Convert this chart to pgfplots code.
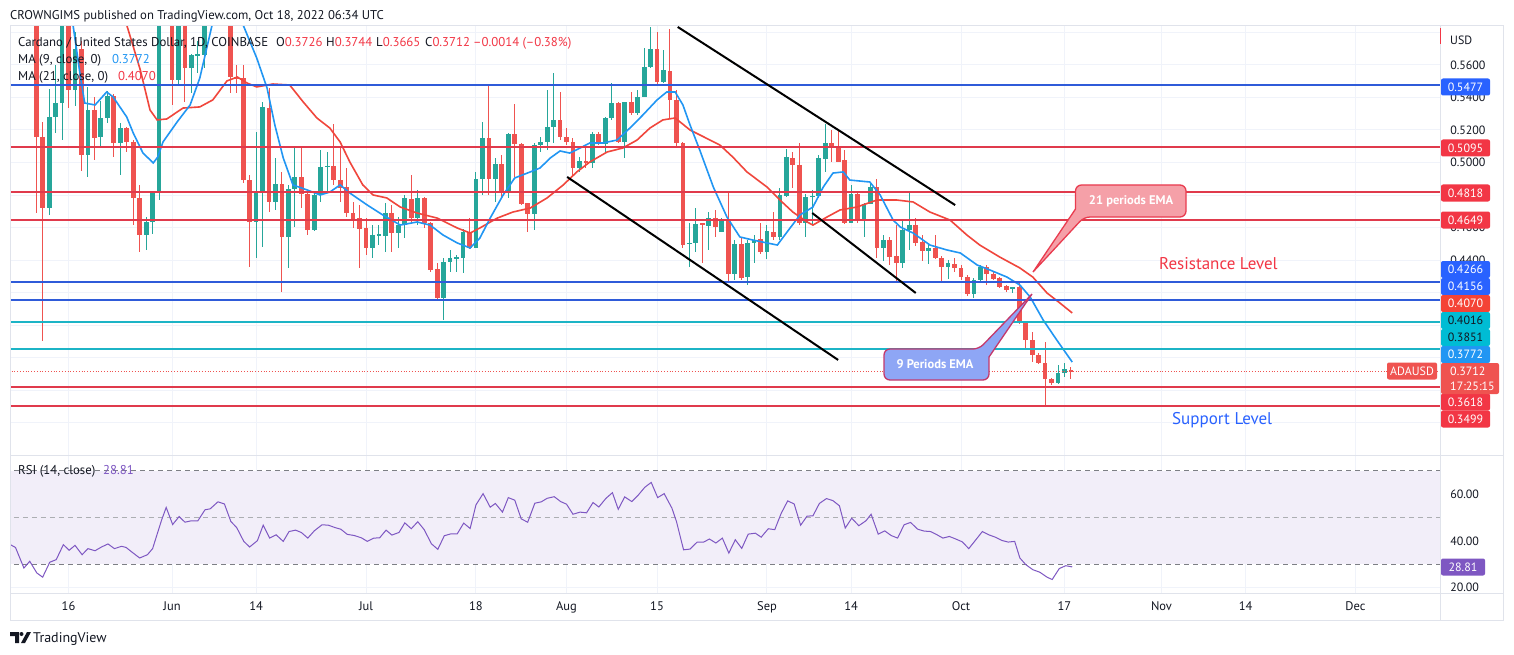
\documentclass[border=0pt]{standalone}
\usepackage{pgfplots}
\pgfplotsset{compat=1.18}
\usepackage{pgfplotstable}
\usepackage{fontspec}
\setmainfont{PT Sans}
\definecolor{cgreen}{HTML}{26A69A}
\definecolor{cred}{HTML}{EF5350}
\definecolor{lblue}{HTML}{2F5BD9}
\definecolor{lred}{HTML}{E03A4C}
\definecolor{lcyan}{HTML}{1CB4C6}
\definecolor{maa}{HTML}{2196F3}
\definecolor{mab}{HTML}{F0463C}
\definecolor{rsiv}{HTML}{7E57C2}
\definecolor{gridc}{HTML}{F0F3FA}
\definecolor{framec}{HTML}{E0E3EB}
\definecolor{txt}{HTML}{131722}
\definecolor{boxblue}{HTML}{2962FF}
\definecolor{boxred}{HTML}{F23645}
\definecolor{boxcyan}{HTML}{00BCD4}
\definecolor{boxma}{HTML}{F44336}
\definecolor{cfillA}{HTML}{F5A0A8}
\definecolor{clineA}{HTML}{E93C4F}
\definecolor{cfillB}{HTML}{8EA6F5}
\definecolor{clineB}{HTML}{C4386B}
\newcommand{\fs}[1]{\fontsize{#1}{#1}\selectfont}

\pgfplotstableread{
d o h l c
-21 0.630 0.640 0.469 0.5157
-20 0.5157 0.525 0.390 0.4718
-19 0.4718 0.545 0.4677 0.5278
-18 0.5278 0.560 0.518 0.5364
-17 0.5364 0.600 0.514 0.595
-16 0.595 0.600 0.5334 0.5446
-15 0.5446 0.580 0.535 0.570
-14 0.570 0.575 0.4945 0.5046
-13 0.5046 0.5467 0.4913 0.5323
-12 0.5323 0.5405 0.5016 0.5149
-11 0.5155 0.538 0.510 0.5276
-10 0.5276 0.544 0.524 0.5409
-9 0.5409 0.542 0.5036 0.5122
-8 0.5122 0.5245 0.4923 0.5214
-7 0.5214 0.522 0.5067 0.5128
-6 0.5128 0.514 0.4615 0.478
-5 0.478 0.486 0.4451 0.4554
-4 0.4554 0.4666 0.4461 0.4636
-3 0.4636 0.4821 0.456 0.4821
-2 0.4821 0.610 0.477 0.600
-1 0.600 0.625 0.588 0.610
0 0.605 0.610 0.5354 0.5508
1 0.5508 0.610 0.5477 0.600
2 0.600 0.610 0.5374 0.5583
3 0.5583 0.567 0.5426 0.5661
4 0.5655 0.575 0.555 0.5665
5 0.5661 0.625 0.558 0.610
6 0.610 0.640 0.600 0.630
7 0.630 0.650 0.610 0.625
8 0.625 0.630 0.590 0.600
9 0.600 0.605 0.5426 0.5528
10 0.5528 0.560 0.5426 0.5518
11 0.5518 0.560 0.4872 0.4892
12 0.4892 0.4923 0.4359 0.4632
13 0.4632 0.519 0.4410 0.482
14 0.482 0.5374 0.4482 0.5343
15 0.5337 0.5456 0.4697 0.4755
16 0.4755 0.5026 0.4708 0.4866
17 0.4866 0.4944 0.4205 0.454
18 0.454 0.4862 0.4353 0.4837
19 0.4837 0.5087 0.4605 0.4909
20 0.4909 0.5097 0.4718 0.4806
21 0.4806 0.4820 0.4554 0.4585
22 0.4585 0.4810 0.4580 0.480
23 0.480 0.5077 0.4759 0.4974
24 0.4974 0.5067 0.4820 0.4980
25 0.4980 0.524 0.4861 0.4892
26 0.4892 0.5087 0.4759 0.484
27 0.4847 0.4964 0.4666 0.4687
28 0.4687 0.4759 0.4595 0.465
29 0.4657 0.4738 0.4349 0.4591
30 0.4595 0.4656 0.4431 0.4476
31 0.4476 0.4615 0.4410 0.4554
32 0.4554 0.4615 0.4492 0.4558
33 0.4550 0.4749 0.4451 0.4687
34 0.4687 0.4738 0.4451 0.4564
35 0.4564 0.4667 0.4472 0.4615
36 0.4615 0.4800 0.4533 0.4780
37 0.4775 0.4923 0.4636 0.4657
38 0.4657 0.4831 0.4615 0.478
39 0.478 0.4790 0.4600 0.4626
40 0.4626 0.4636 0.4328 0.4339
41 0.4345 0.4380 0.4160 0.4164
42 0.4164 0.4410 0.4030 0.4386
43 0.4386 0.4462 0.4328 0.441
44 0.441 0.4431 0.4328 0.4420
45 0.441 0.4591 0.4318 0.4574
46 0.4574 0.4656 0.4465 0.4472
47 0.4476 0.4944 0.4472 0.4896
48 0.4896 0.5251 0.4800 0.5149
49 0.5149 0.5477 0.4800 0.4896
50 0.4896 0.5026 0.4759 0.4989
51 0.4989 0.5046 0.4790 0.482
52 0.482 0.5179 0.4779 0.5173
53 0.5173 0.5358 0.4913 0.5114
54 0.5114 0.5118 0.4738 0.4745
55 0.4749 0.4749 0.4574 0.4681
56 0.4681 0.5118 0.4585 0.5108
57 0.5108 0.5159 0.5067 0.5124
58 0.5124 0.5446 0.5077 0.5221
59 0.5221 0.5549 0.5118 0.5262
60 0.5262 0.5436 0.5138 0.5159
61 0.5159 0.5210 0.5108 0.5124
62 0.5124 0.5149 0.4913 0.4968
63 0.4968 0.5036 0.4943 0.5009
64 0.5009 0.5097 0.4964 0.4995
65 0.4995 0.5190 0.4964 0.5173
66 0.5173 0.5190 0.5108 0.5112
67 0.5112 0.5282 0.5067 0.5272
68 0.5272 0.5487 0.5261 0.5364
69 0.5364 0.5374 0.5118 0.5128
70 0.5128 0.5374 0.5026 0.5370
71 0.537 0.5436 0.5292 0.5302
72 0.5302 0.5446 0.5292 0.5405
73 0.5405 0.5702 0.5405 0.559
74 0.559 0.5836 0.5579 0.5698
75 0.5698 0.5805 0.5481 0.5493
76 0.5493 0.5692 0.5487 0.5569
77 0.5563 0.582 0.5272 0.5385
78 0.5385 0.5446 0.5087 0.5118
79 0.5118 0.5128 0.4472 0.4492
80 0.4498 0.4626 0.4359 0.4507
81 0.4507 0.4718 0.4451 0.4622
82 0.4626 0.4626 0.4380 0.4615
83 0.4609 0.4697 0.4462 0.4657
84 0.4657 0.4708 0.4544 0.4601
85 0.4574 0.4656 0.4574 0.4646
86 0.4646 0.4810 0.4267 0.4314
87 0.4314 0.4523 0.4277 0.4498
88 0.4498 0.4544 0.4277 0.4287
89 0.4297 0.4523 0.4246 0.4503
90 0.4503 0.4554 0.4380 0.4523
91 0.4527 0.4626 0.4436 0.4451
92 0.4451 0.4615 0.4405 0.4579
93 0.4574 0.4697 0.4523 0.454
94 0.454 0.4841 0.4523 0.48
95 0.4794 0.5081 0.4790 0.5032
96 0.5026 0.5067 0.4841 0.4985
97 0.4985 0.5122 0.4615 0.4626
98 0.4626 0.4806 0.4544 0.479
99 0.479 0.4831 0.4615 0.4794
100 0.4794 0.5046 0.4780 0.5026
101 0.502 0.5237 0.4943 0.5122
102 0.5122 0.5200 0.5000 0.5093
103 0.5093 0.5204 0.5000 0.5005
104 0.5015 0.5077 0.4622 0.463
105 0.463 0.4861 0.4626 0.4804
106 0.4804 0.4810 0.4630 0.4646
107 0.465 0.4749 0.4544 0.4745
108 0.4745 0.4872 0.4745 0.4851
109 0.4851 0.4897 0.4410 0.4476
110 0.4476 0.4554 0.4395 0.4523
111 0.4523 0.4544 0.4370 0.442
112 0.4425 0.4615 0.4257 0.4379
113 0.4379 0.4646 0.4349 0.4585
114 0.4585 0.481 0.4462 0.4615
115 0.4615 0.4656 0.4486 0.4507
116 0.4513 0.4554 0.4396 0.4458
117 0.4458 0.4492 0.4375 0.4472
118 0.4472 0.4554 0.4404 0.441
119 0.441 0.4425 0.4256 0.4359
120 0.4359 0.4400 0.4281 0.4379
121 0.4375 0.4410 0.4328 0.4349
122 0.4349 0.4369 0.4277 0.4297
123 0.4297 0.4308 0.4178 0.419
124 0.419 0.4287 0.4164 0.4277
125 0.4277 0.4369 0.4267 0.4355
126 0.4355 0.4369 0.4246 0.4314
127 0.4314 0.4328 0.4277 0.4281
128 0.4287 0.4297 0.4226 0.4236
129 0.424 0.4246 0.4205 0.4216
130 0.422 0.4236 0.4195 0.4232
131 0.4236 0.4267 0.4006 0.4015
132 0.4015 0.4021 0.3846 0.3908
133 0.3908 0.3959 0.3775 0.3816
134 0.3816 0.3826 0.3762 0.3768
135 0.3768 0.3898 0.3498 0.3666
136 0.3666 0.3672 0.3631 0.3641
137 0.3641 0.3754 0.3638 0.3707
138 0.3707 0.3764 0.3682 0.3727
139 0.3726 0.3744 0.3665 0.3712
}\candles

\pgfplotsset{
  tvgrid/.style={
    scale only axis, width=1429pt,
    xmin=-24.896, xmax=196.072,
    axis line style={draw=none}, major tick length=0pt,
    xtick={-16,0,13,30,47,61,75,92,105,122,138,153,166,183},
    xmajorgrids, ymajorgrids,
    grid style={gridc, line width=1pt},
    clip=true,
  },
  wick/.style={draw=none, mark=none, forget plot,
    error bars/y dir=both, error bars/y explicit, error bars/error mark=none,
    error bars/error bar style={line width=1pt, draw=#1}},
  body/.style={draw=none, mark=none, forget plot,
    error bars/y dir=both, error bars/y explicit, error bars/error mark=none,
    error bars/error bar style={line width=4.8pt, draw=#1}},
}

\begin{document}
\begin{tikzpicture}
\useasboundingbox (0pt,0pt) rectangle (1514pt,-655pt);
\fill[white] (0pt,0pt) rectangle (1514pt,-655pt);

% ---------------- price pane ----------------
\begin{axis}[tvgrid,
  at={(11pt,-455pt)}, anchor=south west, height=429pt,
  ymin=0.32, ymax=0.584,
  xticklabels={},
  ytick={0.34,0.36,0.38,0.40,0.42,0.44,0.46,0.48,0.50,0.52,0.54,0.56,0.58},
  yticklabels={,,,,,0.4400,0.4600,,0.5000,0.5200,0.5400,0.5600,},
  yticklabel pos=right,
  yticklabel style={anchor=west, inner sep=0pt, xshift=10pt, font=\fs{12}, text=txt},
]
% wicks
\addplot[restrict expr to domain={\thisrow{c}-\thisrow{o}}{0:1}, wick=cgreen]
  table[x=d, y expr={(\thisrow{h}+\thisrow{l})/2}, y error expr={(\thisrow{h}-\thisrow{l})/2}] {\candles};
\addplot[restrict expr to domain={\thisrow{c}-\thisrow{o}}{-1:-0.00001}, wick=cred]
  table[x=d, y expr={(\thisrow{h}+\thisrow{l})/2}, y error expr={(\thisrow{h}-\thisrow{l})/2}] {\candles};
% bodies
\addplot[restrict expr to domain={\thisrow{c}-\thisrow{o}}{0:1}, body=cgreen]
  table[x=d, y expr={(\thisrow{o}+\thisrow{c})/2}, y error expr={max(abs(\thisrow{c}-\thisrow{o})/2,0.0003)}] {\candles};
\addplot[restrict expr to domain={\thisrow{c}-\thisrow{o}}{-1:-0.00001}, body=cred]
  table[x=d, y expr={(\thisrow{o}+\thisrow{c})/2}, y error expr={max(abs(\thisrow{c}-\thisrow{o})/2,0.0003)}] {\candles};

% MA 21
\addplot[mab, line width=1.6pt, mark=none] coordinates {
(-7.5,0.595) (-7.0,0.5846) (-4.9,0.5569) (-3.4,0.5323) (-2.3,0.5262) (-0.8,0.5268) (1.7,0.5335) (4.3,0.5342) (6.3,0.5385) (8.5,0.5502) (10.1,0.5526) (11.6,0.5489) (13.1,0.5465) (15.6,0.5483) (18.2,0.5477) (20.3,0.5372) (22.4,0.5274) (24.4,0.5212) (26.0,0.5126) (27.5,0.5003) (29.5,0.4862) (31.1,0.48) (33.2,0.4782) (35.3,0.4726) (37.9,0.4689) (41.0,0.4658) (44.1,0.4597) (46.1,0.4566) (47.6,0.4597) (50.3,0.4658) (52.7,0.4695) (55.4,0.472) (58.0,0.4782) (60.5,0.4862) (62.6,0.4942) (64.6,0.5003) (67.3,0.5065) (69.7,0.5089) (71.9,0.5138) (73.9,0.5212) (75.9,0.5262) (77.8,0.5274) (80.1,0.52) (84.7,0.5108) (86.7,0.5034) (88.9,0.4942) (92.0,0.4849) (94.0,0.4769) (96.0,0.4695) (98.2,0.4634) (99.1,0.4615) (101.3,0.4665) (103.3,0.4708) (105.9,0.4726) (109.0,0.4769) (112.1,0.4769) (114.6,0.4757) (117.2,0.4695) (120.3,0.4646) (122.9,0.4554) (124.9,0.4492) (128.0,0.4418) (131.1,0.4351) (133.1,0.4295) (135.3,0.4197) (137.3,0.4135) (139.2,0.4074)
};
% MA 9
\addplot[maa, line width=1.6pt, mark=none] coordinates {
(-15.5,0.59) (-14.2,0.5538) (-13.5,0.5366) (-11.9,0.5354) (-10.1,0.5434) (-9.1,0.5403) (-7.0,0.528) (-6.0,0.5182) (-4.5,0.5059) (-2.9,0.4997) (-2.2,0.5034) (-1.4,0.5126) (0.8,0.525) (2.8,0.5354) (4.3,0.552) (6.2,0.5846) (6.6,0.594) (8.5,0.61) (10.5,0.594) (11.0,0.5846) (13.1,0.5643) (14.7,0.5458) (15.9,0.5231) (17.2,0.5028) (18.7,0.4862) (20.9,0.4831) (22.9,0.48) (24.4,0.4818) (26.0,0.4862) (27.5,0.4812) (30.2,0.4738) (32.6,0.4677) (35.3,0.4615) (37.9,0.4634) (39.9,0.4615) (41.9,0.4554) (44.1,0.4505) (46.1,0.4474) (47.6,0.4535) (49.2,0.4658) (51.2,0.48) (53.0,0.4905) (55.4,0.4942) (56.9,0.4966) (58.5,0.5028) (60.0,0.5071) (61.5,0.5058) (63.1,0.5089) (64.6,0.512) (66.6,0.512) (68.8,0.5138) (70.8,0.5212) (72.8,0.5292) (75.0,0.5385) (76.5,0.5434) (77.8,0.5434) (79.0,0.5354) (80.1,0.5231) (81.6,0.5077) (83.7,0.4849) (85.8,0.4665) (87.8,0.4542) (89.8,0.4523) (92.0,0.4505) (93.6,0.4492) (95.1,0.4572) (97.1,0.4677) (99.1,0.4726) (100.7,0.4849) (102.2,0.4935) (103.8,0.4942) (104.8,0.4892) (107.9,0.488) (109.5,0.48) (111.5,0.4646) (112.6,0.4603) (114.6,0.4566) (117.2,0.4492) (119.8,0.4462) (121.9,0.4443) (124.5,0.4369) (126.5,0.4338) (129.1,0.4295) (131.1,0.4246) (132.7,0.4172) (134.7,0.4031) (136.8,0.3908) (139.2,0.3772)
};
% support / resistance lines
\addplot[lblue, line width=2pt] coordinates {(-30,0.5477) (200,0.5477)};
\addplot[lred, line width=2pt] coordinates {(-30,0.5095) (200,0.5095)};
\addplot[lred, line width=2pt] coordinates {(-30,0.4818) (200,0.4818)};
\addplot[lred, line width=2pt] coordinates {(-30,0.4649) (200,0.4649)};
\addplot[lblue, line width=2pt] coordinates {(-30,0.4266) (200,0.4266)};
\addplot[lblue, line width=2pt] coordinates {(-30,0.4156) (200,0.4156)};
\addplot[lcyan, line width=2pt] coordinates {(-30,0.4016) (200,0.4016)};
\addplot[lcyan, line width=2pt] coordinates {(-30,0.3851) (200,0.3851)};
\addplot[lred, line width=2pt] coordinates {(-30,0.3618) (200,0.3618)};
\addplot[lred, line width=2pt] coordinates {(-30,0.3499) (200,0.3499)};
\addplot[cred, line width=0.8pt, dotted] coordinates {(-30,0.3712) (200,0.3712)};
% channel
\addplot[black, line width=2pt] coordinates {(78.2,0.5834) (121.1,0.4738)};
\addplot[black, line width=2pt] coordinates {(61.1,0.4911) (103.0,0.3785)};
\addplot[black, line width=2pt] coordinates {(99.0,0.4689) (115.0,0.4197)};
\end{axis}

% ---------------- RSI pane ----------------
\begin{axis}[tvgrid,
  at={(11pt,-593pt)}, anchor=south west, height=138pt,
  ymin=17.735, ymax=76.709,
  ytick={20,40,60},
  yticklabel pos=right,
  yticklabel style={anchor=west, inner sep=0pt, xshift=10pt, font=\fs{12}, text=txt,
    /pgf/number format/fixed, /pgf/number format/fixed zerofill,
    /pgf/number format/precision=2, /pgf/number format/assume math mode=true},
  xticklabels={16,Jun,14,Jul,18,Aug,15,Sep,14,Oct,17,Nov,14,Dec},
  xticklabel style={anchor=base, inner sep=0pt, yshift=-17pt, font=\fs{12.5}, text=txt},
]
\addplot[draw=none, fill=rsiv!10] coordinates {(-30,30) (200,30) (200,70) (-30,70)} -- cycle;
\addplot[color=txt!55, line width=0.8pt, dash pattern=on 5pt off 4pt] coordinates {(-30,70) (200,70)};
\addplot[color=txt!35, line width=0.8pt, dash pattern=on 5pt off 4pt] coordinates {(-30,50) (200,50)};
\addplot[color=txt!55, line width=0.8pt, dash pattern=on 5pt off 4pt] coordinates {(-30,30) (200,30)};
\addplot[rsiv, line width=1pt, mark=none] coordinates {
(-25.0,38.4) (-24.2,37.2) (-22.9,28.4) (-22.0,31.3) (-20.9,26.3) (-20.0,24.5) (-18.9,30.9) (-17.9,32.0) (-16.8,38.4) (-15.9,36.0) (-15.0,38.1) (-13.9,34.1) (-13.0,36.7) (-11.9,35.8) (-10.9,37.4) (-9.9,38.7) (-8.9,36.7) (-7.8,37.7) (-7.1,37.2) (-6.0,34.8) (-5.0,32.7) (-3.8,34.1) (-3.0,36.7) (-1.6,49.0) (-0.9,54.3) (0.1,47.0) (1.1,50.4) (2.0,48.0) (3.0,48.6) (4.0,48.6) (5.1,53.3) (5.9,53.7) (7.1,56.7) (8.1,55.8) (9.1,48.3) (10.0,45.7) (11.1,39.8) (12.0,37.4) (13.2,40.1) (14.1,46.7) (15.1,41.2) (16.1,42.6) (17.2,39.8) (18.1,44.0) (19.1,44.6) (20.0,43.6) (21.0,41.2) (22.0,44.3) (23.2,46.9) (24.2,46.7) (25.2,45.7) (26.1,45.0) (27.1,42.8) (28.2,42.3) (29.3,41.3) (30.2,39.8) (31.2,41.2) (32.1,41.3) (33.1,44.6) (34.0,42.5) (35.1,43.6) (36.0,47.7) (37.0,45.2) (38.0,48.2) (39.0,44.8) (40.1,38.8) (41.1,36.4) (42.1,42.2) (43.1,43.0) (44.1,43.0) (45.1,47.6) (46.1,45.3) (47.0,55.4) (48.1,60.2) (49.2,54.4) (50.0,56.0) (51.1,52.3) (52.0,58.5) (53.0,57.4) (54.0,49.4) (55.0,48.0) (56.1,56.1) (57.1,56.7) (58.0,58.2) (59.1,58.9) (60.1,56.8) (61.0,55.7) (62.0,51.4) (63.1,52.3) (64.1,52.0) (65.1,56.4) (66.0,54.5) (67.1,58.2) (68.1,60.6) (69.0,53.5) (70.0,58.8) (71.1,56.8) (72.1,59.6) (73.1,62.9) (74.1,65.0) (75.1,58.5) (76.1,60.2) (77.3,54.0) (78.0,48.3) (79.1,36.2) (80.1,36.5) (81.2,39.5) (82.2,39.5) (83.1,40.8) (84.1,39.1) (85.1,41.2) (86.1,34.8) (87.1,40.5) (88.1,36.8) (89.1,42.9) (90.2,43.3) (91.1,41.6) (92.2,45.2) (93.2,44.8) (94.2,51.8) (95.2,57.1) (96.2,55.8) (97.2,46.7) (98.2,50.6) (99.1,50.7) (100.1,56.0) (101.2,58.1) (102.2,57.2) (103.2,55.0) (104.1,45.5) (105.1,49.7) (106.2,46.5) (107.3,48.6) (108.1,51.4) (109.2,42.9) (110.2,44.3) (111.2,42.3) (112.2,41.2) (113.2,46.9) (114.2,47.9) (115.3,45.0) (116.3,44.2) (117.3,44.0) (118.3,42.6) (119.2,41.2) (120.2,41.9) (121.2,40.8) (122.2,39.6) (123.2,36.7) (124.3,40.5) (125.3,44.0) (126.3,42.6) (127.3,41.6) (128.3,40.2) (129.3,39.5) (130.3,39.8) (131.1,32.7) (132.0,29.9) (133.1,27.7) (134.2,26.6) (135.3,24.5) (136.1,23.5) (137.2,28.2) (138.2,29.4) (139.2,28.9)
};
\end{axis}

% ---------------- overlay in pixel coordinates ----------------
\begin{scope}[x=1pt,y=-1pt]
% frame
\draw[framec, line width=1pt] (10,26) rectangle (1503,620);
\draw[framec, line width=1pt] (10,455) -- (1503,455);
\draw[framec, line width=1pt] (10,593) -- (1503,593);
\draw[framec, line width=1pt] (1440,26) -- (1440,620);
\draw[boxred, line width=1pt] (1440,28) -- (1440,44);

% header
\node[anchor=base west, inner sep=0pt, font=\fs{12.7}, text=txt] at (10,20) {CROWNGIMS published on TradingView.com, Oct 18, 2022 06:34 UTC};
% legend
\begin{scope}[every node/.style={anchor=base west, inner sep=0pt, font=\fs{12.8}, text=txt}]
\node at (18,46.5) {Cardano / United States Dollar, 1D, COINBASE};
\node at (276,46.5) {O\textcolor{boxred}{0.3726}};
\node at (326,46.5) {H\textcolor{boxred}{0.3744}};
\node at (376,46.5) {L\textcolor{boxred}{0.3665}};
\node at (425,46.5) {C\textcolor{boxred}{0.3712}};
\node[text=boxred] at (473,46.5) {–0.0014 (–0.38\%)};
\node at (18,63.5) {MA (9, close, 0)};
\node[text=maa] at (112,63.5) {0.3772};
\node at (18,80.5) {MA (21, close, 0)};
\node[text=boxred] at (118,80.5) {0.4070};
\node at (18,474.5) {RSI (14, close)};
\node[text=rsiv] at (103,474.5) {28.81};
\node[font=\fs{12}] at (1450,44.5) {USD};
\end{scope}

% price labels
\begin{scope}[every node/.style={rounded corners=2pt, minimum width=49pt, minimum height=17pt, inner sep=0pt, font=\fs{12}, text=white}]
\node[fill=boxblue] at (1465.5,87) {0.5477};
\node[fill=boxred] at (1465.5,148) {0.5095};
\node[fill=boxred] at (1465.5,193) {0.4818};
\node[fill=boxred] at (1465.5,220) {0.4649};
\node[fill=boxblue] at (1465.5,269.5) {0.4266};
\node[fill=boxblue] at (1465.5,286.5) {0.4156};
\node[fill=boxma] at (1465.5,303.5) {0.4070};
\node[fill=boxcyan, text=txt] at (1465.5,320.5) {0.4016};
\node[fill=boxcyan, text=txt] at (1465.5,337.5) {0.3851};
\node[fill=maa] at (1465.5,354.5) {0.3772};
\node[fill=boxred] at (1465.5,402) {0.3618};
\node[fill=boxred] at (1465.5,419) {0.3499};
\node[fill=rsiv, minimum width=44pt] at (1463,567) {28.81};
\node[fill=cred, minimum width=50pt] at (1412,371) {ADAUSD};
\end{scope}
\fill[cred, rounded corners=2pt] (1441,363) rectangle (1499,394);
\node[anchor=base west, inner sep=0pt, font=\fs{12}, text=white] at (1450,375.5) {0.3712};
\node[anchor=base west, inner sep=0pt, font=\fs{12}, text=white] at (1450,390.5) {17:25:15};

% callouts
\filldraw[fill=cfillA, draw=clineA, line width=1.3pt]
  (1075.5,209) [rounded corners=6pt] -- (1075.5,185) -- (1186,185) -- (1186,217) -- (1084,217) [sharp corners] -- (1033,272) -- cycle;
\node[font=\bfseries\fs{12.5}, text=white, inner sep=0pt] at (1131,201) {21 periods EMA};
\filldraw[fill=cfillB, draw=clineB, line width=1.3pt]
  (989,357) [rounded corners=6pt] -- (989,380) -- (884,380) -- (884,349) -- (979,349) [sharp corners] -- (1032,294) -- cycle;
\node[font=\bfseries\fs{12.5}, text=white, inner sep=0pt] at (935,364) {9 Periods EMA};

\node[anchor=base west, inner sep=0pt, font=\fs{17}, text=boxred] at (1159,269) {Resistance Level};
\node[anchor=base west, inner sep=0pt, font=\fs{17}, text=boxblue] at (1172,424) {Support Level};

% TradingView logo
\fill[txt] (10,632) -- (19,632) -- (19,643) -- (15,643) -- (15,636) -- (10,636) -- cycle;
\fill[txt] (21.5,634) circle (2);
\fill[txt] (27,632) -- (31,632) -- (25,643) -- (21,643) -- cycle;
\node[anchor=base west, inner sep=0pt, font=\fs{14}, text=txt] at (33,642.5) {TradingView};
\end{scope}
\end{tikzpicture}
\end{document}
